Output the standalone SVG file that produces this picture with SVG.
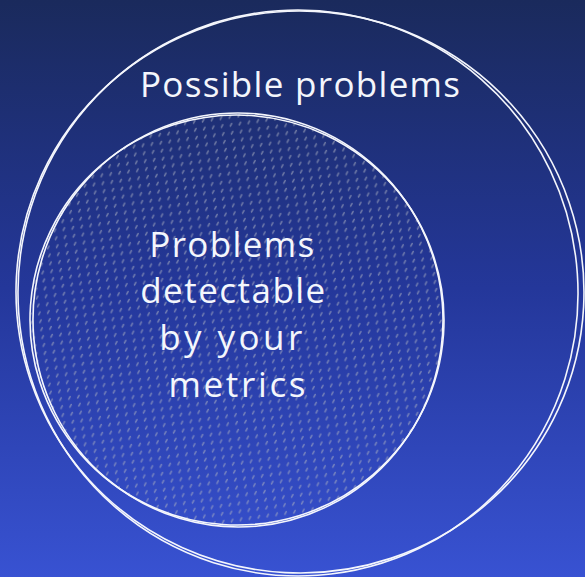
<svg xmlns="http://www.w3.org/2000/svg" width="585" height="577" viewBox="0 0 585 577">
  <defs>
    <linearGradient id="bg" x1="0" y1="0" x2="0" y2="1">
      <stop offset="0" stop-color="#1a2a5c"/>
      <stop offset="0.5" stop-color="#24379a"/>
      <stop offset="1" stop-color="#3852d2"/>
    </linearGradient>
    <pattern id="hatch" width="9" height="8" patternUnits="userSpaceOnUse" patternTransform="rotate(-8)">
      <line x1="3.5" y1="5" x2="5.3" y2="2.5" stroke="#a8adc0" stroke-width="1.4" stroke-linecap="round" opacity="0.6"/>
    </pattern>
  </defs>
  <style>
    .sk { fill: none; stroke: #f4f6fc; stroke-width: 1.6; stroke-linecap: round; }
    .lbl { font-family: "Open Sans", "Liberation Sans", sans-serif; font-weight: 400; fill: #f4f6fc; text-anchor: middle; }
  </style>
  <rect width="585" height="577" fill="url(#bg)"/>

  <g id="possible-problems">
    <ellipse class="sk" cx="300" cy="292" rx="284" ry="281" transform="rotate(3 300 292)"/>
    <ellipse class="sk" cx="298" cy="293" rx="280" ry="283" transform="rotate(-4 298 293)"/>
    <text class="lbl" x="300" y="97" font-size="35" textLength="320" lengthAdjust="spacing">Possible problems</text>
  </g>

  <g id="detectable-problems">
    <ellipse cx="237" cy="320" rx="206" ry="206" fill="url(#hatch)"/>
    <ellipse class="sk" cx="237" cy="320" rx="207" ry="205" transform="rotate(4 237 320)"/>
    <ellipse class="sk" cx="238" cy="320" rx="205" ry="207" transform="rotate(-5 238 320)"/>
    <text class="lbl" font-size="35">
      <tspan x="237" y="257" textLength="165" lengthAdjust="spacing">Problems</tspan>
      <tspan x="238" y="303" textLength="185" lengthAdjust="spacing">detectable</tspan>
      <tspan x="237" y="350" textLength="143" lengthAdjust="spacing">by your</tspan>
      <tspan x="237" y="397" textLength="137" lengthAdjust="spacing">metrics</tspan>
    </text>
  </g>
</svg>
